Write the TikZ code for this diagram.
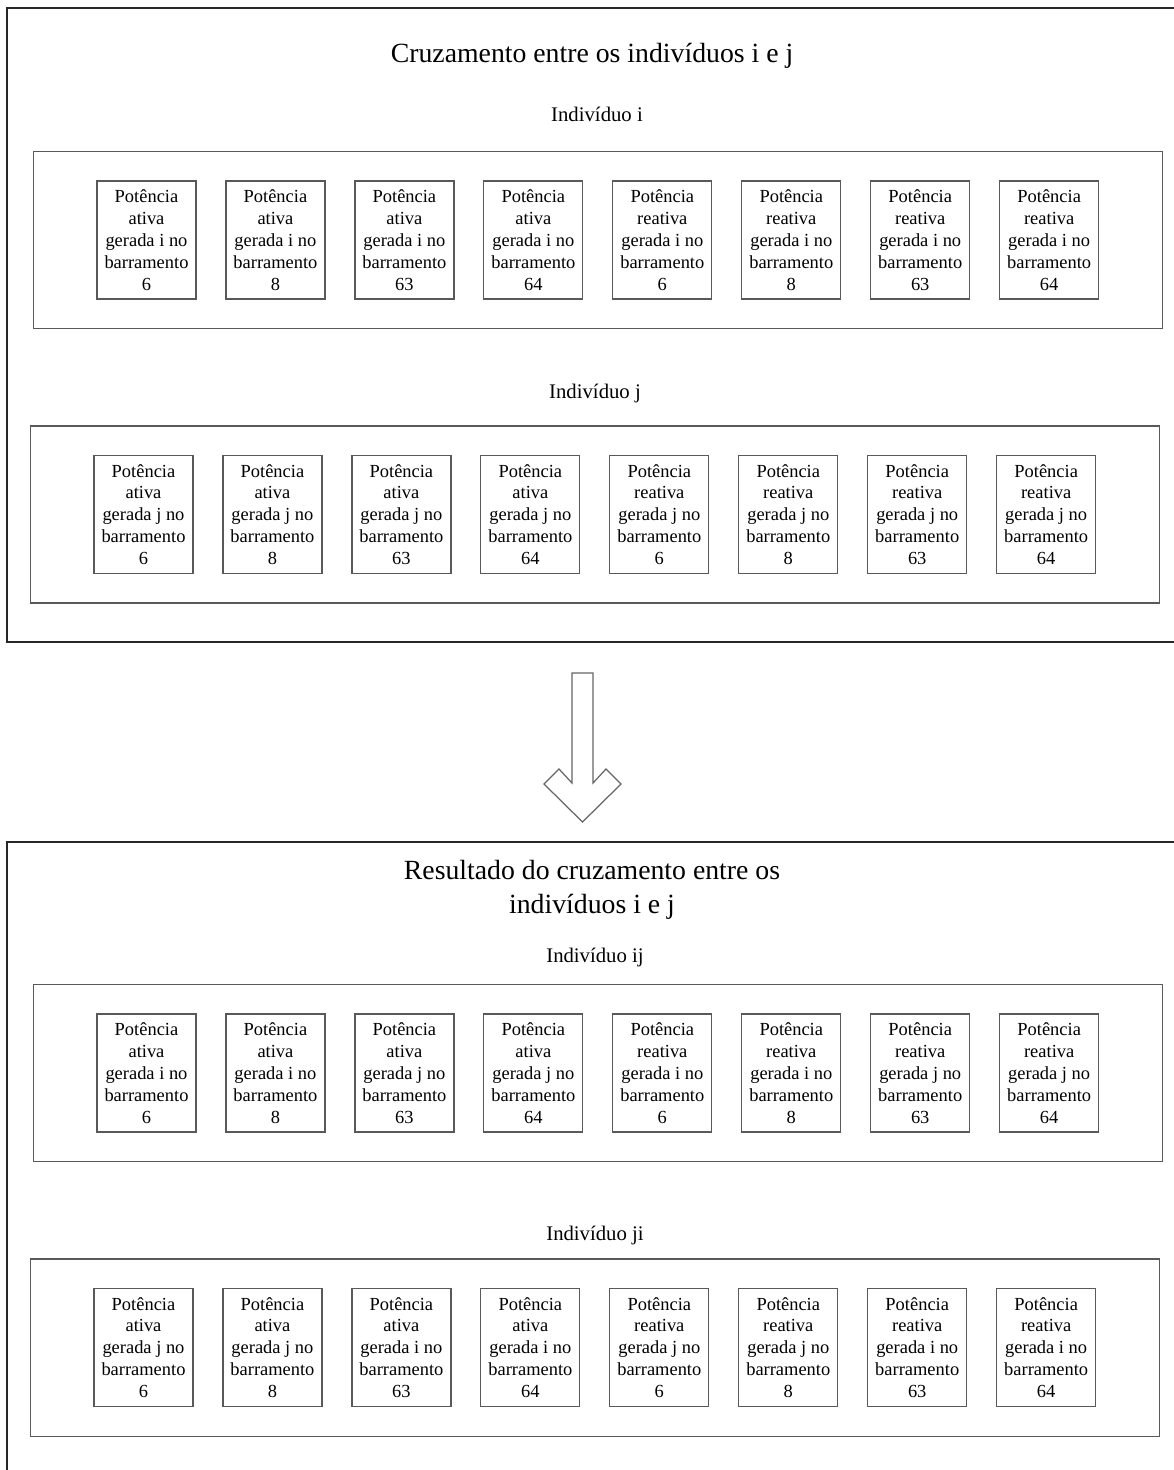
\documentclass[tikz,border=0pt]{standalone}
\usepackage{fontspec}
\setmainfont{Liberation Serif}
\usepackage{tikz}
\usetikzlibrary{positioning, fit}

\begin{document}
\begin{tikzpicture}[x=0.02cm, y=-0.02cm, node distance=0.575cm,
outerbox/.style={draw=black!85, line width=0.9pt},
rowbox/.style={draw=black!65, line width=0.7pt, inner xsep=1.26cm, inner ysep=0.58cm},
cell/.style={rectangle, draw=black!65, line width=0.7pt, minimum width=1.98cm, minimum height=2.36cm, inner sep=0pt, align=center, font=\fontsize{10.5}{12.45}\selectfont},
titletxt/.style={align=center, inner sep=0pt, font=\fontsize{15.8}{19.2}\selectfont},
rowtxt/.style={inner sep=0pt, font=\fontsize{11.8}{14}\selectfont},
bigarrow/.style={draw=black!60, line width=0.7pt, fill=white},]
\useasboundingbox (0,0) rectangle (1173,1470);
\draw[outerbox] (7,8) rectangle (1195,642);
\node[titletxt, anchor=base] (crosstitle) at (592,63) {Cruzamento entre os indivíduos i e j};
\node[rowtxt, anchor=base] (itxt) at (597,121) {Indivíduo i};
\node[cell] (i1) at (146.5,240) {Potência\\ativa\\gerada i no\\barramento\\6};
\node[cell, right=of i1] (i2) {Potência\\ativa\\gerada i no\\barramento\\8};
\node[cell, right=of i2] (i3) {Potência\\ativa\\gerada i no\\barramento\\63};
\node[cell, right=of i3] (i4) {Potência\\ativa\\gerada i no\\barramento\\64};
\node[cell, right=of i4] (i5) {Potência\\reativa\\gerada i no\\barramento\\6};
\node[cell, right=of i5] (i6) {Potência\\reativa\\gerada i no\\barramento\\8};
\node[cell, right=of i6] (i7) {Potência\\reativa\\gerada i no\\barramento\\63};
\node[cell, right=of i7] (i8) {Potência\\reativa\\gerada i no\\barramento\\64};
\node[rowbox, fit=(i1)(i8)] (rowi) {};
\node[rowtxt, anchor=base] (jtxt) at (595,398) {Indivíduo j};
\node[cell] (j1) at (143.5,514.5) {Potência\\ativa\\gerada j no\\barramento\\6};
\node[cell, right=of j1] (j2) {Potência\\ativa\\gerada j no\\barramento\\8};
\node[cell, right=of j2] (j3) {Potência\\ativa\\gerada j no\\barramento\\63};
\node[cell, right=of j3] (j4) {Potência\\ativa\\gerada j no\\barramento\\64};
\node[cell, right=of j4] (j5) {Potência\\reativa\\gerada j no\\barramento\\6};
\node[cell, right=of j5] (j6) {Potência\\reativa\\gerada j no\\barramento\\8};
\node[cell, right=of j6] (j7) {Potência\\reativa\\gerada j no\\barramento\\63};
\node[cell, right=of j7] (j8) {Potência\\reativa\\gerada j no\\barramento\\64};
\node[rowbox, fit=(j1)(j8)] (rowj) {};
\draw[bigarrow] (572,673) -- (572,783) -- (559,769) -- (544,784) -- (582.5,822) -- (621,784) -- (606,769) -- (593,783) -- (593,673) -- cycle;
\draw[outerbox] (7,842) rectangle (1195,1495);
\node[titletxt, anchor=base] (restitle) at (592,913) {Resultado do cruzamento entre os\\indivíduos i e j};
\node[rowtxt, anchor=base] (ijtxt) at (595,962) {Indivíduo ij};
\node[cell] (ij1) at (146.5,1073) {Potência\\ativa\\gerada i no\\barramento\\6};
\node[cell, right=of ij1] (ij2) {Potência\\ativa\\gerada i no\\barramento\\8};
\node[cell, right=of ij2] (ij3) {Potência\\ativa\\gerada j no\\barramento\\63};
\node[cell, right=of ij3] (ij4) {Potência\\ativa\\gerada j no\\barramento\\64};
\node[cell, right=of ij4] (ij5) {Potência\\reativa\\gerada i no\\barramento\\6};
\node[cell, right=of ij5] (ij6) {Potência\\reativa\\gerada i no\\barramento\\8};
\node[cell, right=of ij6] (ij7) {Potência\\reativa\\gerada j no\\barramento\\63};
\node[cell, right=of ij7] (ij8) {Potência\\reativa\\gerada j no\\barramento\\64};
\node[rowbox, fit=(ij1)(ij8)] (rowij) {};
\node[rowtxt, anchor=base] (jitxt) at (595,1240) {Indivíduo ji};
\node[cell] (ji1) at (143.5,1347.5) {Potência\\ativa\\gerada j no\\barramento\\6};
\node[cell, right=of ji1] (ji2) {Potência\\ativa\\gerada j no\\barramento\\8};
\node[cell, right=of ji2] (ji3) {Potência\\ativa\\gerada i no\\barramento\\63};
\node[cell, right=of ji3] (ji4) {Potência\\ativa\\gerada i no\\barramento\\64};
\node[cell, right=of ji4] (ji5) {Potência\\reativa\\gerada j no\\barramento\\6};
\node[cell, right=of ji5] (ji6) {Potência\\reativa\\gerada j no\\barramento\\8};
\node[cell, right=of ji6] (ji7) {Potência\\reativa\\gerada i no\\barramento\\63};
\node[cell, right=of ji7] (ji8) {Potência\\reativa\\gerada i no\\barramento\\64};
\node[rowbox, fit=(ji1)(ji8)] (rowji) {};
\end{tikzpicture}
\end{document}
